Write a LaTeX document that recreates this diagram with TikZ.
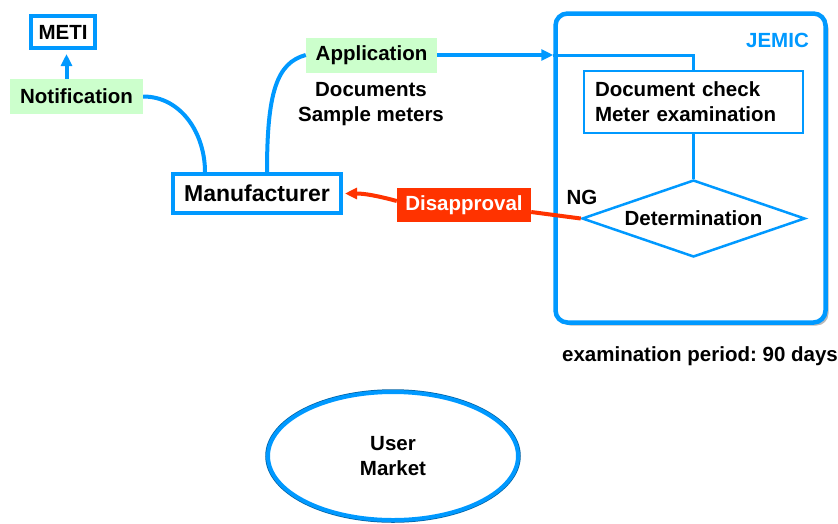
\documentclass[tikz,border=0pt]{standalone}
\usepackage{fontspec}
\setmainfont{Liberation Sans}
\usetikzlibrary{arrows.meta, positioning, shapes.geometric, shadows}
\definecolor{myblue}{RGB}{0,153,255}
\definecolor{mygreen}{RGB}{204,255,204}
\definecolor{myred}{RGB}{255,51,0}

\begin{document}
\frenchspacing
\begin{tikzpicture}[x=1pt,y=-1pt,>={Triangle[length=12pt,width=11pt]},
          txt/.style={inner sep=0pt,align=center,font=\bfseries\fontsize{20.5}{25}\selectfont},
          box/.style={txt,draw=myblue,line width=4pt,fill=white},
          tag/.style={txt,fill=mygreen,minimum height=35pt},
          conn/.style={myblue,line width=4pt}]
        \useasboundingbox (0,0) rectangle (838,523);
        \node[draw=myblue,line width=4.5pt,rounded corners=12pt,fill=white,
              minimum width=270pt,minimum height=309pt,
              drop shadow={shadow xshift=3pt,shadow yshift=-3pt,fill=gray!55,opacity=1}](jemic) at (690.5,168){};
        \node[txt,text=myblue,anchor=east](jemicname) at (809,40){JEMIC};
        \node[box,minimum width=64pt,minimum height=32pt](meti) at (63,32){METI};
        \node[tag,minimum width=133pt](note) at (76.5,96.5){Notification};
        \node[box,minimum width=168pt,minimum height=39pt,font=\bfseries\fontsize{23}{27}\selectfont](manu) at (257,193.5){Manufacturer};
        \node[tag,minimum width=131pt](app) at (371.5,55){Application};
        \node[txt](docs) at (371,104){Documents\\Sample meters};
        \node[box,line width=2.5pt,align=left,text width=197pt,inner xsep=11pt,
              minimum height=62pt](check) at (693.5,102){Document check\\Meter examination};
        \node[box,line width=2.5pt,diamond,aspect=2.9,minimum width=223pt,
              minimum height=77pt](det) at (693.5,218.5){Determination};
        \node[txt](ng) at (582,197){NG};
        \node[txt,fill=myred,text=white,minimum width=134pt,minimum height=34pt](disap) at (464,205){Disapproval};
        \node[txt](period) at (700,356){examination period: 90 days};
        \node[txt,ellipse,draw=myblue,line width=4pt,fill=white,minimum width=250pt,minimum height=128pt,
              preaction={draw=myblue!65!black,line width=5.5pt}](user) at (393,456){User\\Market};
        \draw[conn,->,shorten >=4pt]([xshift=-10pt]note.north)--([xshift=-10pt]note.north |- meti.south);
        \draw[conn](note.east) to[out=0,in=90] ([xshift=-52pt]manu.north);
        \draw[conn]([xshift=10pt]manu.north) to[out=90,in=195,out distance=80pt,in distance=30pt] (app.west);
        \draw[conn,->](app.east)--(app.east -| jemic.west);
        \draw[myblue,line width=3pt](app.east -| jemic.west) -| (check.north);
        \draw[myblue,line width=3pt](check)--(det);
        \draw[myred,line width=4pt](det.west)--([yshift=-7pt]disap.east);
        \draw[myred,line width=4pt,->,shorten >=2pt]([yshift=4pt]disap.west) to[out=165,in=0] (manu.east);
      \end{tikzpicture}
\end{document}
